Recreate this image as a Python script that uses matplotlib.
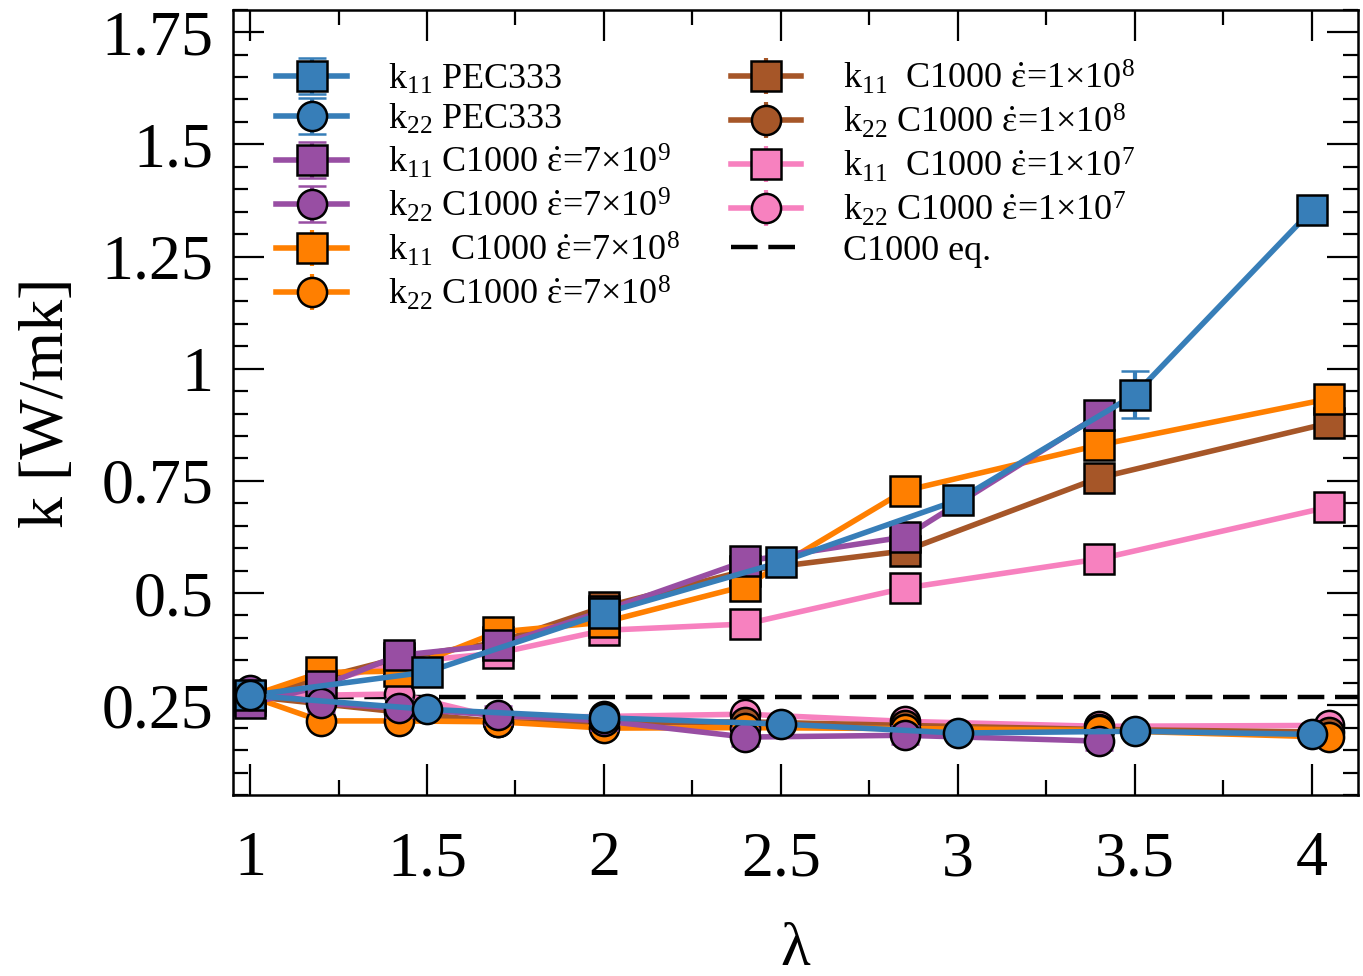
import numpy as np
import matplotlib
matplotlib.use("Agg")
import matplotlib.pyplot as plt
from matplotlib.ticker import MultipleLocator, FixedLocator, FuncFormatter

plt.rcParams['font.family'] = ['Liberation Serif', 'DejaVu Serif']
# upright serif math so the strain-rate symbol matches the body text
plt.rcParams['mathtext.fontset'] = 'custom'
plt.rcParams['mathtext.rm'] = 'Liberation Serif'
plt.rcParams['mathtext.it'] = 'Liberation Serif'
plt.rcParams['mathtext.bf'] = 'Liberation Serif:bold'

# stretch ratio lambda for each data set
lam_pec = [1.0, 1.5, 2.0, 2.5, 3.0, 3.5, 4.0]
lam_c7e9 = [1.0, 1.2, 1.42, 1.7, 2.0, 2.4, 2.85, 3.4]
lam_c7e8 = [1.0, 1.2, 1.42, 1.7, 2.0, 2.4, 2.85, 3.4, 4.05]
lam_c1e8 = [1.0, 1.42, 1.7, 2.0, 2.4, 2.85, 3.4, 4.05]
lam_c1e7 = [1.0, 1.42, 1.7, 2.0, 2.4, 2.85, 3.4, 4.05]

# thermal conductivity components k11 / k22 [W/mK]
k11_pec = [0.272, 0.324, 0.455, 0.569, 0.707, 0.942, 1.353]
k22_pec = [0.272, 0.241, 0.222, 0.208, 0.188, 0.192, 0.185]
k11_pec_err = [0.01, 0.01, 0.01, 0.01, 0.01, 0.052, 0.01]
k22_pec_err = [0.01, 0.01, 0.01, 0.01, 0.01, 0.012, 0.01]

k11_c7e9 = [0.254, 0.292, 0.361, 0.384, 0.46, 0.571, 0.625, 0.897]
k22_c7e9 = [0.283, 0.255, 0.243, 0.228, 0.215, 0.179, 0.183, 0.170]

k11_c7e8 = [0.270, 0.323, 0.326, 0.413, 0.435, 0.516, 0.728, 0.830, 0.933]
k22_c7e8 = [0.270, 0.215, 0.215, 0.213, 0.199, 0.200, 0.198, 0.194, 0.179]

k11_c1e8 = [0.270, 0.355, 0.390, 0.469, 0.550, 0.594, 0.757, 0.879]
k22_c1e8 = [0.270, 0.235, 0.213, 0.210, 0.213, 0.205, 0.196, 0.190]

k11_c1e7 = [0.262, 0.345, 0.366, 0.417, 0.431, 0.511, 0.576, 0.692]
k22_c1e7 = [0.270, 0.275, 0.222, 0.225, 0.230, 0.214, 0.203, 0.205]

c_err = 0.005      # error bars of the C1000 runs (smaller than the symbols)
k_eq = 0.268       # C1000 equilibrium value

blue = '#377eb8'
purple = '#984ea3'
orange = '#ff7f00'
brown = '#a65628'
pink = '#f781bf'

eps = r'$\dot{ε}$'

fig = plt.figure(figsize=(13.63, 9.76), dpi=100)
ax = fig.add_axes([0.171, 0.1855, 0.825, 0.8045])

series = [
    (lam_pec, k11_pec, k11_pec_err, blue, 's', r'k$_{11}$ PEC333', 10, 10),
    (lam_pec, k22_pec, k22_pec_err, blue, 'o', r'k$_{22}$ PEC333', 10, 10),
    (lam_c7e9, k11_c7e9, 0.02, purple, 's', r'k$_{11}$ C1000 ' + eps + r'=7×10$^{9}$', 10, 8),
    (lam_c7e9, k22_c7e9, 0.02, purple, 'o', r'k$_{22}$ C1000 ' + eps + r'=7×10$^{9}$', 10, 8),
    (lam_c7e8, k11_c7e8, c_err, orange, 's', r'k$_{11}$  C1000 ' + eps + r'=7×10$^{8}$', 0, 6),
    (lam_c7e8, k22_c7e8, c_err, orange, 'o', r'k$_{22}$ C1000 ' + eps + r'=7×10$^{8}$', 0, 6),
    (lam_c1e8, k11_c1e8, c_err, brown, 's', r'k$_{11}$  C1000 ' + eps + r'=1×10$^{8}$', 0, 5),
    (lam_c1e8, k22_c1e8, c_err, brown, 'o', r'k$_{22}$ C1000 ' + eps + r'=1×10$^{8}$', 0, 5),
    (lam_c1e7, k11_c1e7, c_err, pink, 's', r'k$_{11}$  C1000 ' + eps + r'=1×10$^{7}$', 0, 4),
    (lam_c1e7, k22_c1e7, c_err, pink, 'o', r'k$_{22}$ C1000 ' + eps + r'=1×10$^{7}$', 0, 4),
]

handles = []
for x, y, err, col, mk, lab, cap, z in series:
    h = ax.errorbar(x, y, yerr=err, color=col, ecolor=col, lw=4, elinewidth=3,
                    capsize=cap, capthick=3, marker=mk, ms=21, mfc=col,
                    mec='black', mew=1.8, label=lab, zorder=z)
    handles.append(h)

eq, = ax.plot([0.9, 4.2], [k_eq, k_eq], color='black', ls=(0, (6, 2.4)),
              lw=3.2, label='C1000 eq.', zorder=3)
handles.append(eq)

ax.set_xlim(0.952, 4.13)
ax.set_ylim(0.05, 1.8)

ax.xaxis.set_major_locator(MultipleLocator(0.5))
ax.xaxis.set_minor_locator(MultipleLocator(0.25))
ax.yaxis.set_major_locator(FixedLocator([0.25, 0.5, 0.75, 1.0, 1.25, 1.5, 1.75]))
ax.yaxis.set_minor_locator(MultipleLocator(0.05))
fmt = FuncFormatter(lambda v, p: '%g' % v)
ax.xaxis.set_major_formatter(fmt)
ax.yaxis.set_major_formatter(fmt)

ax.tick_params(which='both', direction='in', top=True, right=True,
               labelsize=46, width=1.6)
ax.tick_params(which='major', length=22)
ax.tick_params(which='minor', length=11)
ax.tick_params(axis='x', which='major', pad=26)
ax.tick_params(axis='y', which='major', pad=14)
for s in ax.spines.values():
    s.set_linewidth(1.8)

ax.set_xlabel('λ', fontsize=44, labelpad=24)
ax.set_ylabel('k [W/mk]', fontsize=46, labelpad=18)

ax.legend(handles, [h.get_label() for h in handles],
          loc='upper left', bbox_to_anchor=(0.016, 0.97), ncol=2,
          frameon=False, fontsize=26, handlelength=1.95, handletextpad=1.15,
          labelspacing=0.16, columnspacing=1.4, borderpad=0.2)

fig.savefig('out.png', dpi=100)
